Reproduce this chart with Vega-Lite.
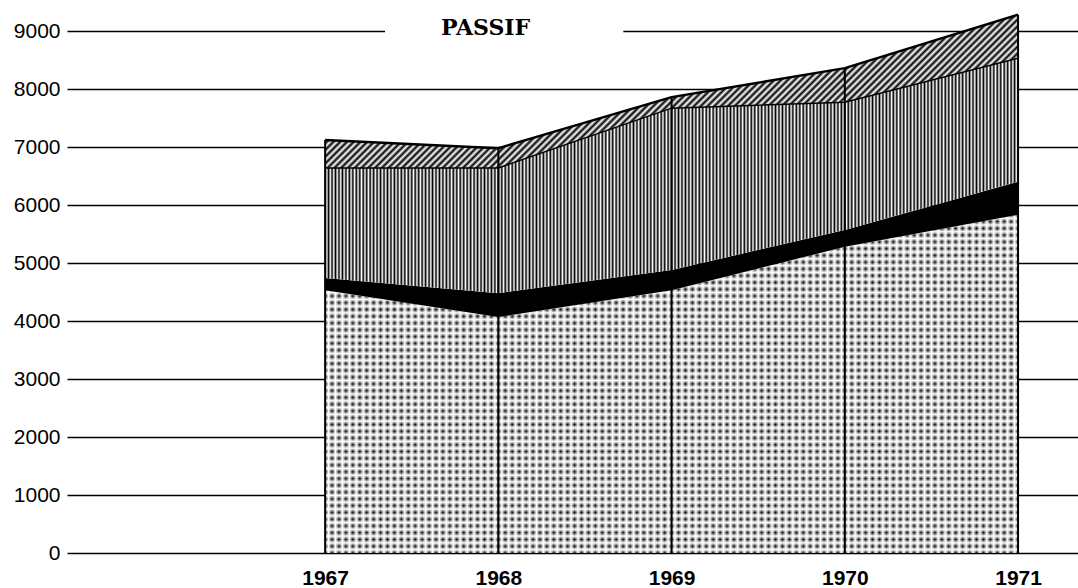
{
"$schema":"https://vega.github.io/schema/vega-lite/v6.json",
"width":1011,"height":551,
"autosize":{"type":"none"},
"padding":{"left":67,"top":2,"right":0,"bottom":35},
"background":"white",
"title":{"text":"PASSIF","anchor":"start","frame":"group","dx":374,"offset":-55,"baseline":"alphabetic","font":"DejaVu Serif","fontSize":22,"fontWeight":"bold","color":"#000"},
"config":{"view":{"stroke":null},
"axis":{"labelFont":"Liberation Sans","labelColor":"#000"},
"axisY":{"grid":true,"gridColor":"#000","gridWidth":1.6,"gridOpacity":1,"ticks":false,"domain":false,"labelFontSize":21,"labelPadding":7},
"axisX":{"grid":false,"ticks":false,"domain":false,"labelFontSize":21,"labelFontWeight":"bold","labelPadding":14,"labelFlush":false,"labelOverlap":false}},
"data":{"values":[
{"annee":1967,"s1":4530,"s2":4740,"s3":6640,"s4":7120},
{"annee":1968,"s1":4070,"s2":4480,"s3":6640,"s4":6980},
{"annee":1969,"s1":4530,"s2":4880,"s3":7670,"s4":7860},
{"annee":1970,"s1":5280,"s2":5570,"s3":7770,"s4":8360},
{"annee":1971,"s1":5830,"s2":6400,"s3":8530,"s4":9280}
]},
"encoding":{"x":{"field":"annee","type":"quantitative","scale":{"domain":[1965.51,1971.346],"nice":false,"zero":false},"axis":{"values":[1967,1968,1969,1970,1971],"format":"d","title":null}}},
"layer":[
{"mark":{"type":"rect","fill":"#fff","stroke":null},
"encoding":{"x":{"datum":1967.346,"type":"quantitative","scale":{"domain":[1965.51,1971.346],"nice":false,"zero":false},"axis":{"values":[1967,1968,1969,1970,1971],"format":"d","title":null}},"x2":{"datum":1968.72},"y":{"datum":8850,"type":"quantitative","scale":{"domain":[0,9500],"nice":false},"axis":{"values":[0,1000,2000,3000,4000,5000,6000,7000,8000,9000],"format":"d","title":null}},"y2":{"datum":9150}}},
{"mark":{"type":"area","interpolate":"linear","fill":{"gradient":"linear","x1":0,"y1":0,"x2":0,"y2":1,"stops":[
{"offset":0,"color":"#000"},{"offset":0.01,"color":"#fff"},{"offset":0.02,"color":"#000"},{"offset":0.03,"color":"#fff"},{"offset":0.04,"color":"#000"},{"offset":0.05,"color":"#fff"},{"offset":0.06,"color":"#000"},{"offset":0.07,"color":"#fff"},{"offset":0.08,"color":"#000"},{"offset":0.09,"color":"#fff"},
{"offset":0.1,"color":"#000"},{"offset":0.11,"color":"#fff"},{"offset":0.12,"color":"#000"},{"offset":0.13,"color":"#fff"},{"offset":0.14,"color":"#000"},{"offset":0.15,"color":"#fff"},{"offset":0.16,"color":"#000"},{"offset":0.17,"color":"#fff"},{"offset":0.18,"color":"#000"},{"offset":0.19,"color":"#fff"},
{"offset":0.2,"color":"#000"},{"offset":0.21,"color":"#fff"},{"offset":0.22,"color":"#000"},{"offset":0.23,"color":"#fff"},{"offset":0.24,"color":"#000"},{"offset":0.25,"color":"#fff"},{"offset":0.26,"color":"#000"},{"offset":0.27,"color":"#fff"},{"offset":0.28,"color":"#000"},{"offset":0.29,"color":"#fff"},
{"offset":0.3,"color":"#000"},{"offset":0.31,"color":"#fff"},{"offset":0.32,"color":"#000"},{"offset":0.33,"color":"#fff"},{"offset":0.34,"color":"#000"},{"offset":0.35,"color":"#fff"},{"offset":0.36,"color":"#000"},{"offset":0.37,"color":"#fff"},{"offset":0.38,"color":"#000"},{"offset":0.39,"color":"#fff"},
{"offset":0.4,"color":"#000"},{"offset":0.41,"color":"#fff"},{"offset":0.42,"color":"#000"},{"offset":0.43,"color":"#fff"},{"offset":0.44,"color":"#000"},{"offset":0.45,"color":"#fff"},{"offset":0.46,"color":"#000"},{"offset":0.47,"color":"#fff"},{"offset":0.48,"color":"#000"},{"offset":0.49,"color":"#fff"},
{"offset":0.5,"color":"#000"},{"offset":0.51,"color":"#fff"},{"offset":0.52,"color":"#000"},{"offset":0.53,"color":"#fff"},{"offset":0.54,"color":"#000"},{"offset":0.55,"color":"#fff"},{"offset":0.56,"color":"#000"},{"offset":0.57,"color":"#fff"},{"offset":0.58,"color":"#000"},{"offset":0.59,"color":"#fff"},
{"offset":0.6,"color":"#000"},{"offset":0.61,"color":"#fff"},{"offset":0.62,"color":"#000"},{"offset":0.63,"color":"#fff"},{"offset":0.64,"color":"#000"},{"offset":0.65,"color":"#fff"},{"offset":0.66,"color":"#000"},{"offset":0.67,"color":"#fff"},{"offset":0.68,"color":"#000"},{"offset":0.69,"color":"#fff"},
{"offset":0.7,"color":"#000"},{"offset":0.71,"color":"#fff"},{"offset":0.72,"color":"#000"},{"offset":0.73,"color":"#fff"},{"offset":0.74,"color":"#000"},{"offset":0.75,"color":"#fff"},{"offset":0.76,"color":"#000"},{"offset":0.77,"color":"#fff"},{"offset":0.78,"color":"#000"},{"offset":0.79,"color":"#fff"},
{"offset":0.8,"color":"#000"},{"offset":0.81,"color":"#fff"},{"offset":0.82,"color":"#000"},{"offset":0.83,"color":"#fff"},{"offset":0.84,"color":"#000"},{"offset":0.85,"color":"#fff"},{"offset":0.86,"color":"#000"},{"offset":0.87,"color":"#fff"},{"offset":0.88,"color":"#000"},{"offset":0.89,"color":"#fff"},
{"offset":0.9,"color":"#000"},{"offset":0.91,"color":"#fff"},{"offset":0.92,"color":"#000"},{"offset":0.93,"color":"#fff"},{"offset":0.94,"color":"#000"},{"offset":0.95,"color":"#fff"},{"offset":0.96,"color":"#000"},{"offset":0.97,"color":"#fff"},{"offset":0.98,"color":"#000"},{"offset":0.99,"color":"#fff"},
{"offset":1,"color":"#000"}]}},
"encoding":{"y":{"field":"s1","type":"quantitative","scale":{"domain":[0,9500],"nice":false},"axis":{"values":[0,1000,2000,3000,4000,5000,6000,7000,8000,9000],"format":"d","title":null}}}},
{"mark":{"type":"area","interpolate":"linear","fill":{"gradient":"linear","x1":0,"y1":0,"x2":1,"y2":0,"stops":[
{"offset":0,"color":"rgba(255,255,255,0)"},{"offset":0.005,"color":"#fff"},{"offset":0.01,"color":"rgba(255,255,255,0)"},{"offset":0.015,"color":"#fff"},{"offset":0.02,"color":"rgba(255,255,255,0)"},{"offset":0.025,"color":"#fff"},{"offset":0.03,"color":"rgba(255,255,255,0)"},{"offset":0.035,"color":"#fff"},{"offset":0.04,"color":"rgba(255,255,255,0)"},{"offset":0.045,"color":"#fff"},
{"offset":0.05,"color":"rgba(255,255,255,0)"},{"offset":0.055,"color":"#fff"},{"offset":0.06,"color":"rgba(255,255,255,0)"},{"offset":0.065,"color":"#fff"},{"offset":0.07,"color":"rgba(255,255,255,0)"},{"offset":0.075,"color":"#fff"},{"offset":0.08,"color":"rgba(255,255,255,0)"},{"offset":0.085,"color":"#fff"},{"offset":0.09,"color":"rgba(255,255,255,0)"},{"offset":0.095,"color":"#fff"},
{"offset":0.1,"color":"rgba(255,255,255,0)"},{"offset":0.105,"color":"#fff"},{"offset":0.11,"color":"rgba(255,255,255,0)"},{"offset":0.115,"color":"#fff"},{"offset":0.12,"color":"rgba(255,255,255,0)"},{"offset":0.125,"color":"#fff"},{"offset":0.13,"color":"rgba(255,255,255,0)"},{"offset":0.135,"color":"#fff"},{"offset":0.14,"color":"rgba(255,255,255,0)"},{"offset":0.145,"color":"#fff"},
{"offset":0.15,"color":"rgba(255,255,255,0)"},{"offset":0.155,"color":"#fff"},{"offset":0.16,"color":"rgba(255,255,255,0)"},{"offset":0.165,"color":"#fff"},{"offset":0.17,"color":"rgba(255,255,255,0)"},{"offset":0.175,"color":"#fff"},{"offset":0.18,"color":"rgba(255,255,255,0)"},{"offset":0.185,"color":"#fff"},{"offset":0.19,"color":"rgba(255,255,255,0)"},{"offset":0.195,"color":"#fff"},
{"offset":0.2,"color":"rgba(255,255,255,0)"},{"offset":0.205,"color":"#fff"},{"offset":0.21,"color":"rgba(255,255,255,0)"},{"offset":0.215,"color":"#fff"},{"offset":0.22,"color":"rgba(255,255,255,0)"},{"offset":0.225,"color":"#fff"},{"offset":0.23,"color":"rgba(255,255,255,0)"},{"offset":0.235,"color":"#fff"},{"offset":0.24,"color":"rgba(255,255,255,0)"},{"offset":0.245,"color":"#fff"},
{"offset":0.25,"color":"rgba(255,255,255,0)"},{"offset":0.255,"color":"#fff"},{"offset":0.26,"color":"rgba(255,255,255,0)"},{"offset":0.265,"color":"#fff"},{"offset":0.27,"color":"rgba(255,255,255,0)"},{"offset":0.275,"color":"#fff"},{"offset":0.28,"color":"rgba(255,255,255,0)"},{"offset":0.285,"color":"#fff"},{"offset":0.29,"color":"rgba(255,255,255,0)"},{"offset":0.295,"color":"#fff"},
{"offset":0.3,"color":"rgba(255,255,255,0)"},{"offset":0.305,"color":"#fff"},{"offset":0.31,"color":"rgba(255,255,255,0)"},{"offset":0.315,"color":"#fff"},{"offset":0.32,"color":"rgba(255,255,255,0)"},{"offset":0.325,"color":"#fff"},{"offset":0.33,"color":"rgba(255,255,255,0)"},{"offset":0.335,"color":"#fff"},{"offset":0.34,"color":"rgba(255,255,255,0)"},{"offset":0.345,"color":"#fff"},
{"offset":0.35,"color":"rgba(255,255,255,0)"},{"offset":0.355,"color":"#fff"},{"offset":0.36,"color":"rgba(255,255,255,0)"},{"offset":0.365,"color":"#fff"},{"offset":0.37,"color":"rgba(255,255,255,0)"},{"offset":0.375,"color":"#fff"},{"offset":0.38,"color":"rgba(255,255,255,0)"},{"offset":0.385,"color":"#fff"},{"offset":0.39,"color":"rgba(255,255,255,0)"},{"offset":0.395,"color":"#fff"},
{"offset":0.4,"color":"rgba(255,255,255,0)"},{"offset":0.405,"color":"#fff"},{"offset":0.41,"color":"rgba(255,255,255,0)"},{"offset":0.415,"color":"#fff"},{"offset":0.42,"color":"rgba(255,255,255,0)"},{"offset":0.425,"color":"#fff"},{"offset":0.43,"color":"rgba(255,255,255,0)"},{"offset":0.435,"color":"#fff"},{"offset":0.44,"color":"rgba(255,255,255,0)"},{"offset":0.445,"color":"#fff"},
{"offset":0.45,"color":"rgba(255,255,255,0)"},{"offset":0.455,"color":"#fff"},{"offset":0.46,"color":"rgba(255,255,255,0)"},{"offset":0.465,"color":"#fff"},{"offset":0.47,"color":"rgba(255,255,255,0)"},{"offset":0.475,"color":"#fff"},{"offset":0.48,"color":"rgba(255,255,255,0)"},{"offset":0.485,"color":"#fff"},{"offset":0.49,"color":"rgba(255,255,255,0)"},{"offset":0.495,"color":"#fff"},
{"offset":0.5,"color":"rgba(255,255,255,0)"},{"offset":0.505,"color":"#fff"},{"offset":0.51,"color":"rgba(255,255,255,0)"},{"offset":0.515,"color":"#fff"},{"offset":0.52,"color":"rgba(255,255,255,0)"},{"offset":0.525,"color":"#fff"},{"offset":0.53,"color":"rgba(255,255,255,0)"},{"offset":0.535,"color":"#fff"},{"offset":0.54,"color":"rgba(255,255,255,0)"},{"offset":0.545,"color":"#fff"},
{"offset":0.55,"color":"rgba(255,255,255,0)"},{"offset":0.555,"color":"#fff"},{"offset":0.56,"color":"rgba(255,255,255,0)"},{"offset":0.565,"color":"#fff"},{"offset":0.57,"color":"rgba(255,255,255,0)"},{"offset":0.575,"color":"#fff"},{"offset":0.58,"color":"rgba(255,255,255,0)"},{"offset":0.585,"color":"#fff"},{"offset":0.59,"color":"rgba(255,255,255,0)"},{"offset":0.595,"color":"#fff"},
{"offset":0.6,"color":"rgba(255,255,255,0)"},{"offset":0.605,"color":"#fff"},{"offset":0.61,"color":"rgba(255,255,255,0)"},{"offset":0.615,"color":"#fff"},{"offset":0.62,"color":"rgba(255,255,255,0)"},{"offset":0.625,"color":"#fff"},{"offset":0.63,"color":"rgba(255,255,255,0)"},{"offset":0.635,"color":"#fff"},{"offset":0.64,"color":"rgba(255,255,255,0)"},{"offset":0.645,"color":"#fff"},
{"offset":0.65,"color":"rgba(255,255,255,0)"},{"offset":0.655,"color":"#fff"},{"offset":0.66,"color":"rgba(255,255,255,0)"},{"offset":0.665,"color":"#fff"},{"offset":0.67,"color":"rgba(255,255,255,0)"},{"offset":0.675,"color":"#fff"},{"offset":0.68,"color":"rgba(255,255,255,0)"},{"offset":0.685,"color":"#fff"},{"offset":0.69,"color":"rgba(255,255,255,0)"},{"offset":0.695,"color":"#fff"},
{"offset":0.7,"color":"rgba(255,255,255,0)"},{"offset":0.705,"color":"#fff"},{"offset":0.71,"color":"rgba(255,255,255,0)"},{"offset":0.715,"color":"#fff"},{"offset":0.72,"color":"rgba(255,255,255,0)"},{"offset":0.725,"color":"#fff"},{"offset":0.73,"color":"rgba(255,255,255,0)"},{"offset":0.735,"color":"#fff"},{"offset":0.74,"color":"rgba(255,255,255,0)"},{"offset":0.745,"color":"#fff"},
{"offset":0.75,"color":"rgba(255,255,255,0)"},{"offset":0.755,"color":"#fff"},{"offset":0.76,"color":"rgba(255,255,255,0)"},{"offset":0.765,"color":"#fff"},{"offset":0.77,"color":"rgba(255,255,255,0)"},{"offset":0.775,"color":"#fff"},{"offset":0.78,"color":"rgba(255,255,255,0)"},{"offset":0.785,"color":"#fff"},{"offset":0.79,"color":"rgba(255,255,255,0)"},{"offset":0.795,"color":"#fff"},
{"offset":0.8,"color":"rgba(255,255,255,0)"},{"offset":0.805,"color":"#fff"},{"offset":0.81,"color":"rgba(255,255,255,0)"},{"offset":0.815,"color":"#fff"},{"offset":0.82,"color":"rgba(255,255,255,0)"},{"offset":0.825,"color":"#fff"},{"offset":0.83,"color":"rgba(255,255,255,0)"},{"offset":0.835,"color":"#fff"},{"offset":0.84,"color":"rgba(255,255,255,0)"},{"offset":0.845,"color":"#fff"},
{"offset":0.85,"color":"rgba(255,255,255,0)"},{"offset":0.855,"color":"#fff"},{"offset":0.86,"color":"rgba(255,255,255,0)"},{"offset":0.865,"color":"#fff"},{"offset":0.87,"color":"rgba(255,255,255,0)"},{"offset":0.875,"color":"#fff"},{"offset":0.88,"color":"rgba(255,255,255,0)"},{"offset":0.885,"color":"#fff"},{"offset":0.89,"color":"rgba(255,255,255,0)"},{"offset":0.895,"color":"#fff"},
{"offset":0.9,"color":"rgba(255,255,255,0)"},{"offset":0.905,"color":"#fff"},{"offset":0.91,"color":"rgba(255,255,255,0)"},{"offset":0.915,"color":"#fff"},{"offset":0.92,"color":"rgba(255,255,255,0)"},{"offset":0.925,"color":"#fff"},{"offset":0.93,"color":"rgba(255,255,255,0)"},{"offset":0.935,"color":"#fff"},{"offset":0.94,"color":"rgba(255,255,255,0)"},{"offset":0.945,"color":"#fff"},
{"offset":0.95,"color":"rgba(255,255,255,0)"},{"offset":0.955,"color":"#fff"},{"offset":0.96,"color":"rgba(255,255,255,0)"},{"offset":0.965,"color":"#fff"},{"offset":0.97,"color":"rgba(255,255,255,0)"},{"offset":0.975,"color":"#fff"},{"offset":0.98,"color":"rgba(255,255,255,0)"},{"offset":0.985,"color":"#fff"},{"offset":0.99,"color":"rgba(255,255,255,0)"},{"offset":0.995,"color":"#fff"},
{"offset":1,"color":"rgba(255,255,255,0)"}]}},
"encoding":{"y":{"field":"s1","type":"quantitative","scale":{"domain":[0,9500],"nice":false},"axis":{"values":[0,1000,2000,3000,4000,5000,6000,7000,8000,9000],"format":"d","title":null}}}},
{"mark":{"type":"area","interpolate":"linear","fill":"#000"},
"encoding":{"y":{"field":"s2","type":"quantitative","scale":{"domain":[0,9500],"nice":false},"axis":{"values":[0,1000,2000,3000,4000,5000,6000,7000,8000,9000],"format":"d","title":null}},"y2":{"field":"s1"}}},
{"mark":{"type":"area","interpolate":"linear","fill":{"gradient":"linear","x1":0,"y1":0,"x2":1,"y2":0,"stops":[
{"offset":0,"color":"#000"},{"offset":0.0025,"color":"#fff"},{"offset":0.005,"color":"#000"},{"offset":0.0075,"color":"#fff"},
{"offset":0.01,"color":"#000"},{"offset":0.0125,"color":"#fff"},{"offset":0.015,"color":"#000"},{"offset":0.0175,"color":"#fff"},
{"offset":0.02,"color":"#000"},{"offset":0.0225,"color":"#fff"},{"offset":0.025,"color":"#000"},{"offset":0.0275,"color":"#fff"},
{"offset":0.03,"color":"#000"},{"offset":0.0325,"color":"#fff"},{"offset":0.035,"color":"#000"},{"offset":0.0375,"color":"#fff"},
{"offset":0.04,"color":"#000"},{"offset":0.0425,"color":"#fff"},{"offset":0.045,"color":"#000"},{"offset":0.0475,"color":"#fff"},
{"offset":0.05,"color":"#000"},{"offset":0.0525,"color":"#fff"},{"offset":0.055,"color":"#000"},{"offset":0.0575,"color":"#fff"},
{"offset":0.06,"color":"#000"},{"offset":0.0625,"color":"#fff"},{"offset":0.065,"color":"#000"},{"offset":0.0675,"color":"#fff"},
{"offset":0.07,"color":"#000"},{"offset":0.0725,"color":"#fff"},{"offset":0.075,"color":"#000"},{"offset":0.0775,"color":"#fff"},
{"offset":0.08,"color":"#000"},{"offset":0.0825,"color":"#fff"},{"offset":0.085,"color":"#000"},{"offset":0.0875,"color":"#fff"},
{"offset":0.09,"color":"#000"},{"offset":0.0925,"color":"#fff"},{"offset":0.095,"color":"#000"},{"offset":0.0975,"color":"#fff"},
{"offset":0.1,"color":"#000"},{"offset":0.1025,"color":"#fff"},{"offset":0.105,"color":"#000"},{"offset":0.1075,"color":"#fff"},
{"offset":0.11,"color":"#000"},{"offset":0.1125,"color":"#fff"},{"offset":0.115,"color":"#000"},{"offset":0.1175,"color":"#fff"},
{"offset":0.12,"color":"#000"},{"offset":0.1225,"color":"#fff"},{"offset":0.125,"color":"#000"},{"offset":0.1275,"color":"#fff"},
{"offset":0.13,"color":"#000"},{"offset":0.1325,"color":"#fff"},{"offset":0.135,"color":"#000"},{"offset":0.1375,"color":"#fff"},
{"offset":0.14,"color":"#000"},{"offset":0.1425,"color":"#fff"},{"offset":0.145,"color":"#000"},{"offset":0.1475,"color":"#fff"},
{"offset":0.15,"color":"#000"},{"offset":0.1525,"color":"#fff"},{"offset":0.155,"color":"#000"},{"offset":0.1575,"color":"#fff"},
{"offset":0.16,"color":"#000"},{"offset":0.1625,"color":"#fff"},{"offset":0.165,"color":"#000"},{"offset":0.1675,"color":"#fff"},
{"offset":0.17,"color":"#000"},{"offset":0.1725,"color":"#fff"},{"offset":0.175,"color":"#000"},{"offset":0.1775,"color":"#fff"},
{"offset":0.18,"color":"#000"},{"offset":0.1825,"color":"#fff"},{"offset":0.185,"color":"#000"},{"offset":0.1875,"color":"#fff"},
{"offset":0.19,"color":"#000"},{"offset":0.1925,"color":"#fff"},{"offset":0.195,"color":"#000"},{"offset":0.1975,"color":"#fff"},
{"offset":0.2,"color":"#000"},{"offset":0.2025,"color":"#fff"},{"offset":0.205,"color":"#000"},{"offset":0.2075,"color":"#fff"},
{"offset":0.21,"color":"#000"},{"offset":0.2125,"color":"#fff"},{"offset":0.215,"color":"#000"},{"offset":0.2175,"color":"#fff"},
{"offset":0.22,"color":"#000"},{"offset":0.2225,"color":"#fff"},{"offset":0.225,"color":"#000"},{"offset":0.2275,"color":"#fff"},
{"offset":0.23,"color":"#000"},{"offset":0.2325,"color":"#fff"},{"offset":0.235,"color":"#000"},{"offset":0.2375,"color":"#fff"},
{"offset":0.24,"color":"#000"},{"offset":0.2425,"color":"#fff"},{"offset":0.245,"color":"#000"},{"offset":0.2475,"color":"#fff"},
{"offset":0.25,"color":"#000"},{"offset":0.2525,"color":"#fff"},{"offset":0.255,"color":"#000"},{"offset":0.2575,"color":"#fff"},
{"offset":0.26,"color":"#000"},{"offset":0.2625,"color":"#fff"},{"offset":0.265,"color":"#000"},{"offset":0.2675,"color":"#fff"},
{"offset":0.27,"color":"#000"},{"offset":0.2725,"color":"#fff"},{"offset":0.275,"color":"#000"},{"offset":0.2775,"color":"#fff"},
{"offset":0.28,"color":"#000"},{"offset":0.2825,"color":"#fff"},{"offset":0.285,"color":"#000"},{"offset":0.2875,"color":"#fff"},
{"offset":0.29,"color":"#000"},{"offset":0.2925,"color":"#fff"},{"offset":0.295,"color":"#000"},{"offset":0.2975,"color":"#fff"},
{"offset":0.3,"color":"#000"},{"offset":0.3025,"color":"#fff"},{"offset":0.305,"color":"#000"},{"offset":0.3075,"color":"#fff"},
{"offset":0.31,"color":"#000"},{"offset":0.3125,"color":"#fff"},{"offset":0.315,"color":"#000"},{"offset":0.3175,"color":"#fff"},
{"offset":0.32,"color":"#000"},{"offset":0.3225,"color":"#fff"},{"offset":0.325,"color":"#000"},{"offset":0.3275,"color":"#fff"},
{"offset":0.33,"color":"#000"},{"offset":0.3325,"color":"#fff"},{"offset":0.335,"color":"#000"},{"offset":0.3375,"color":"#fff"},
{"offset":0.34,"color":"#000"},{"offset":0.3425,"color":"#fff"},{"offset":0.345,"color":"#000"},{"offset":0.3475,"color":"#fff"},
{"offset":0.35,"color":"#000"},{"offset":0.3525,"color":"#fff"},{"offset":0.355,"color":"#000"},{"offset":0.3575,"color":"#fff"},
{"offset":0.36,"color":"#000"},{"offset":0.3625,"color":"#fff"},{"offset":0.365,"color":"#000"},{"offset":0.3675,"color":"#fff"},
{"offset":0.37,"color":"#000"},{"offset":0.3725,"color":"#fff"},{"offset":0.375,"color":"#000"},{"offset":0.3775,"color":"#fff"},
{"offset":0.38,"color":"#000"},{"offset":0.3825,"color":"#fff"},{"offset":0.385,"color":"#000"},{"offset":0.3875,"color":"#fff"},
{"offset":0.39,"color":"#000"},{"offset":0.3925,"color":"#fff"},{"offset":0.395,"color":"#000"},{"offset":0.3975,"color":"#fff"},
{"offset":0.4,"color":"#000"},{"offset":0.4025,"color":"#fff"},{"offset":0.405,"color":"#000"},{"offset":0.4075,"color":"#fff"},
{"offset":0.41,"color":"#000"},{"offset":0.4125,"color":"#fff"},{"offset":0.415,"color":"#000"},{"offset":0.4175,"color":"#fff"},
{"offset":0.42,"color":"#000"},{"offset":0.4225,"color":"#fff"},{"offset":0.425,"color":"#000"},{"offset":0.4275,"color":"#fff"},
{"offset":0.43,"color":"#000"},{"offset":0.4325,"color":"#fff"},{"offset":0.435,"color":"#000"},{"offset":0.4375,"color":"#fff"},
{"offset":0.44,"color":"#000"},{"offset":0.4425,"color":"#fff"},{"offset":0.445,"color":"#000"},{"offset":0.4475,"color":"#fff"},
{"offset":0.45,"color":"#000"},{"offset":0.4525,"color":"#fff"},{"offset":0.455,"color":"#000"},{"offset":0.4575,"color":"#fff"},
{"offset":0.46,"color":"#000"},{"offset":0.4625,"color":"#fff"},{"offset":0.465,"color":"#000"},{"offset":0.4675,"color":"#fff"},
{"offset":0.47,"color":"#000"},{"offset":0.4725,"color":"#fff"},{"offset":0.475,"color":"#000"},{"offset":0.4775,"color":"#fff"},
{"offset":0.48,"color":"#000"},{"offset":0.4825,"color":"#fff"},{"offset":0.485,"color":"#000"},{"offset":0.4875,"color":"#fff"},
{"offset":0.49,"color":"#000"},{"offset":0.4925,"color":"#fff"},{"offset":0.495,"color":"#000"},{"offset":0.4975,"color":"#fff"},
{"offset":0.5,"color":"#000"},{"offset":0.5025,"color":"#fff"},{"offset":0.505,"color":"#000"},{"offset":0.5075,"color":"#fff"},
{"offset":0.51,"color":"#000"},{"offset":0.5125,"color":"#fff"},{"offset":0.515,"color":"#000"},{"offset":0.5175,"color":"#fff"},
{"offset":0.52,"color":"#000"},{"offset":0.5225,"color":"#fff"},{"offset":0.525,"color":"#000"},{"offset":0.5275,"color":"#fff"},
{"offset":0.53,"color":"#000"},{"offset":0.5325,"color":"#fff"},{"offset":0.535,"color":"#000"},{"offset":0.5375,"color":"#fff"},
{"offset":0.54,"color":"#000"},{"offset":0.5425,"color":"#fff"},{"offset":0.545,"color":"#000"},{"offset":0.5475,"color":"#fff"},
{"offset":0.55,"color":"#000"},{"offset":0.5525,"color":"#fff"},{"offset":0.555,"color":"#000"},{"offset":0.5575,"color":"#fff"},
{"offset":0.56,"color":"#000"},{"offset":0.5625,"color":"#fff"},{"offset":0.565,"color":"#000"},{"offset":0.5675,"color":"#fff"},
{"offset":0.57,"color":"#000"},{"offset":0.5725,"color":"#fff"},{"offset":0.575,"color":"#000"},{"offset":0.5775,"color":"#fff"},
{"offset":0.58,"color":"#000"},{"offset":0.5825,"color":"#fff"},{"offset":0.585,"color":"#000"},{"offset":0.5875,"color":"#fff"},
{"offset":0.59,"color":"#000"},{"offset":0.5925,"color":"#fff"},{"offset":0.595,"color":"#000"},{"offset":0.5975,"color":"#fff"},
{"offset":0.6,"color":"#000"},{"offset":0.6025,"color":"#fff"},{"offset":0.605,"color":"#000"},{"offset":0.6075,"color":"#fff"},
{"offset":0.61,"color":"#000"},{"offset":0.6125,"color":"#fff"},{"offset":0.615,"color":"#000"},{"offset":0.6175,"color":"#fff"},
{"offset":0.62,"color":"#000"},{"offset":0.6225,"color":"#fff"},{"offset":0.625,"color":"#000"},{"offset":0.6275,"color":"#fff"},
{"offset":0.63,"color":"#000"},{"offset":0.6325,"color":"#fff"},{"offset":0.635,"color":"#000"},{"offset":0.6375,"color":"#fff"},
{"offset":0.64,"color":"#000"},{"offset":0.6425,"color":"#fff"},{"offset":0.645,"color":"#000"},{"offset":0.6475,"color":"#fff"},
{"offset":0.65,"color":"#000"},{"offset":0.6525,"color":"#fff"},{"offset":0.655,"color":"#000"},{"offset":0.6575,"color":"#fff"},
{"offset":0.66,"color":"#000"},{"offset":0.6625,"color":"#fff"},{"offset":0.665,"color":"#000"},{"offset":0.6675,"color":"#fff"},
{"offset":0.67,"color":"#000"},{"offset":0.6725,"color":"#fff"},{"offset":0.675,"color":"#000"},{"offset":0.6775,"color":"#fff"},
{"offset":0.68,"color":"#000"},{"offset":0.6825,"color":"#fff"},{"offset":0.685,"color":"#000"},{"offset":0.6875,"color":"#fff"},
{"offset":0.69,"color":"#000"},{"offset":0.6925,"color":"#fff"},{"offset":0.695,"color":"#000"},{"offset":0.6975,"color":"#fff"},
{"offset":0.7,"color":"#000"},{"offset":0.7025,"color":"#fff"},{"offset":0.705,"color":"#000"},{"offset":0.7075,"color":"#fff"},
{"offset":0.71,"color":"#000"},{"offset":0.7125,"color":"#fff"},{"offset":0.715,"color":"#000"},{"offset":0.7175,"color":"#fff"},
{"offset":0.72,"color":"#000"},{"offset":0.7225,"color":"#fff"},{"offset":0.725,"color":"#000"},{"offset":0.7275,"color":"#fff"},
{"offset":0.73,"color":"#000"},{"offset":0.7325,"color":"#fff"},{"offset":0.735,"color":"#000"},{"offset":0.7375,"color":"#fff"},
{"offset":0.74,"color":"#000"},{"offset":0.7425,"color":"#fff"},{"offset":0.745,"color":"#000"},{"offset":0.7475,"color":"#fff"},
{"offset":0.75,"color":"#000"},{"offset":0.7525,"color":"#fff"},{"offset":0.755,"color":"#000"},{"offset":0.7575,"color":"#fff"},
{"offset":0.76,"color":"#000"},{"offset":0.7625,"color":"#fff"},{"offset":0.765,"color":"#000"},{"offset":0.7675,"color":"#fff"},
{"offset":0.77,"color":"#000"},{"offset":0.7725,"color":"#fff"},{"offset":0.775,"color":"#000"},{"offset":0.7775,"color":"#fff"},
{"offset":0.78,"color":"#000"},{"offset":0.7825,"color":"#fff"},{"offset":0.785,"color":"#000"},{"offset":0.7875,"color":"#fff"},
{"offset":0.79,"color":"#000"},{"offset":0.7925,"color":"#fff"},{"offset":0.795,"color":"#000"},{"offset":0.7975,"color":"#fff"},
{"offset":0.8,"color":"#000"},{"offset":0.8025,"color":"#fff"},{"offset":0.805,"color":"#000"},{"offset":0.8075,"color":"#fff"},
{"offset":0.81,"color":"#000"},{"offset":0.8125,"color":"#fff"},{"offset":0.815,"color":"#000"},{"offset":0.8175,"color":"#fff"},
{"offset":0.82,"color":"#000"},{"offset":0.8225,"color":"#fff"},{"offset":0.825,"color":"#000"},{"offset":0.8275,"color":"#fff"},
{"offset":0.83,"color":"#000"},{"offset":0.8325,"color":"#fff"},{"offset":0.835,"color":"#000"},{"offset":0.8375,"color":"#fff"},
{"offset":0.84,"color":"#000"},{"offset":0.8425,"color":"#fff"},{"offset":0.845,"color":"#000"},{"offset":0.8475,"color":"#fff"},
{"offset":0.85,"color":"#000"},{"offset":0.8525,"color":"#fff"},{"offset":0.855,"color":"#000"},{"offset":0.8575,"color":"#fff"},
{"offset":0.86,"color":"#000"},{"offset":0.8625,"color":"#fff"},{"offset":0.865,"color":"#000"},{"offset":0.8675,"color":"#fff"},
{"offset":0.87,"color":"#000"},{"offset":0.8725,"color":"#fff"},{"offset":0.875,"color":"#000"},{"offset":0.8775,"color":"#fff"},
{"offset":0.88,"color":"#000"},{"offset":0.8825,"color":"#fff"},{"offset":0.885,"color":"#000"},{"offset":0.8875,"color":"#fff"},
{"offset":0.89,"color":"#000"},{"offset":0.8925,"color":"#fff"},{"offset":0.895,"color":"#000"},{"offset":0.8975,"color":"#fff"},
{"offset":0.9,"color":"#000"},{"offset":0.9025,"color":"#fff"},{"offset":0.905,"color":"#000"},{"offset":0.9075,"color":"#fff"},
{"offset":0.91,"color":"#000"},{"offset":0.9125,"color":"#fff"},{"offset":0.915,"color":"#000"},{"offset":0.9175,"color":"#fff"},
{"offset":0.92,"color":"#000"},{"offset":0.9225,"color":"#fff"},{"offset":0.925,"color":"#000"},{"offset":0.9275,"color":"#fff"},
{"offset":0.93,"color":"#000"},{"offset":0.9325,"color":"#fff"},{"offset":0.935,"color":"#000"},{"offset":0.9375,"color":"#fff"},
{"offset":0.94,"color":"#000"},{"offset":0.9425,"color":"#fff"},{"offset":0.945,"color":"#000"},{"offset":0.9475,"color":"#fff"},
{"offset":0.95,"color":"#000"},{"offset":0.9525,"color":"#fff"},{"offset":0.955,"color":"#000"},{"offset":0.9575,"color":"#fff"},
{"offset":0.96,"color":"#000"},{"offset":0.9625,"color":"#fff"},{"offset":0.965,"color":"#000"},{"offset":0.9675,"color":"#fff"},
{"offset":0.97,"color":"#000"},{"offset":0.9725,"color":"#fff"},{"offset":0.975,"color":"#000"},{"offset":0.9775,"color":"#fff"},
{"offset":0.98,"color":"#000"},{"offset":0.9825,"color":"#fff"},{"offset":0.985,"color":"#000"},{"offset":0.9875,"color":"#fff"},
{"offset":0.99,"color":"#000"},{"offset":0.9925,"color":"#fff"},{"offset":0.995,"color":"#000"},{"offset":0.9975,"color":"#fff"},
{"offset":1,"color":"#000"}]}},
"encoding":{"y":{"field":"s3","type":"quantitative","scale":{"domain":[0,9500],"nice":false},"axis":{"values":[0,1000,2000,3000,4000,5000,6000,7000,8000,9000],"format":"d","title":null}},"y2":{"field":"s2"}}},
{"mark":{"type":"area","interpolate":"linear","fill":{"gradient":"linear","x1":0,"y1":0,"x2":1.1641,"y2":0.2572,"stops":[
{"offset":0,"color":"#000"},{"offset":0.004,"color":"#fff"},{"offset":0.008,"color":"#000"},{"offset":0.012,"color":"#fff"},{"offset":0.016,"color":"#000"},{"offset":0.02,"color":"#fff"},{"offset":0.024,"color":"#000"},{"offset":0.028,"color":"#fff"},{"offset":0.032,"color":"#000"},{"offset":0.036,"color":"#fff"},
{"offset":0.04,"color":"#000"},{"offset":0.044,"color":"#fff"},{"offset":0.048,"color":"#000"},{"offset":0.052,"color":"#fff"},{"offset":0.056,"color":"#000"},{"offset":0.06,"color":"#fff"},{"offset":0.064,"color":"#000"},{"offset":0.068,"color":"#fff"},{"offset":0.072,"color":"#000"},{"offset":0.076,"color":"#fff"},
{"offset":0.08,"color":"#000"},{"offset":0.084,"color":"#fff"},{"offset":0.088,"color":"#000"},{"offset":0.092,"color":"#fff"},{"offset":0.096,"color":"#000"},{"offset":0.1,"color":"#fff"},{"offset":0.104,"color":"#000"},{"offset":0.108,"color":"#fff"},{"offset":0.112,"color":"#000"},{"offset":0.116,"color":"#fff"},
{"offset":0.12,"color":"#000"},{"offset":0.124,"color":"#fff"},{"offset":0.128,"color":"#000"},{"offset":0.132,"color":"#fff"},{"offset":0.136,"color":"#000"},{"offset":0.14,"color":"#fff"},{"offset":0.144,"color":"#000"},{"offset":0.148,"color":"#fff"},{"offset":0.152,"color":"#000"},{"offset":0.156,"color":"#fff"},
{"offset":0.16,"color":"#000"},{"offset":0.164,"color":"#fff"},{"offset":0.168,"color":"#000"},{"offset":0.172,"color":"#fff"},{"offset":0.176,"color":"#000"},{"offset":0.18,"color":"#fff"},{"offset":0.184,"color":"#000"},{"offset":0.188,"color":"#fff"},{"offset":0.192,"color":"#000"},{"offset":0.196,"color":"#fff"},
{"offset":0.2,"color":"#000"},{"offset":0.204,"color":"#fff"},{"offset":0.208,"color":"#000"},{"offset":0.212,"color":"#fff"},{"offset":0.216,"color":"#000"},{"offset":0.22,"color":"#fff"},{"offset":0.224,"color":"#000"},{"offset":0.228,"color":"#fff"},{"offset":0.232,"color":"#000"},{"offset":0.236,"color":"#fff"},
{"offset":0.24,"color":"#000"},{"offset":0.244,"color":"#fff"},{"offset":0.248,"color":"#000"},{"offset":0.252,"color":"#fff"},{"offset":0.256,"color":"#000"},{"offset":0.26,"color":"#fff"},{"offset":0.264,"color":"#000"},{"offset":0.268,"color":"#fff"},{"offset":0.272,"color":"#000"},{"offset":0.276,"color":"#fff"},
{"offset":0.28,"color":"#000"},{"offset":0.284,"color":"#fff"},{"offset":0.288,"color":"#000"},{"offset":0.292,"color":"#fff"},{"offset":0.296,"color":"#000"},{"offset":0.3,"color":"#fff"},{"offset":0.304,"color":"#000"},{"offset":0.308,"color":"#fff"},{"offset":0.312,"color":"#000"},{"offset":0.316,"color":"#fff"},
{"offset":0.32,"color":"#000"},{"offset":0.324,"color":"#fff"},{"offset":0.328,"color":"#000"},{"offset":0.332,"color":"#fff"},{"offset":0.336,"color":"#000"},{"offset":0.34,"color":"#fff"},{"offset":0.344,"color":"#000"},{"offset":0.348,"color":"#fff"},{"offset":0.352,"color":"#000"},{"offset":0.356,"color":"#fff"},
{"offset":0.36,"color":"#000"},{"offset":0.364,"color":"#fff"},{"offset":0.368,"color":"#000"},{"offset":0.372,"color":"#fff"},{"offset":0.376,"color":"#000"},{"offset":0.38,"color":"#fff"},{"offset":0.384,"color":"#000"},{"offset":0.388,"color":"#fff"},{"offset":0.392,"color":"#000"},{"offset":0.396,"color":"#fff"},
{"offset":0.4,"color":"#000"},{"offset":0.404,"color":"#fff"},{"offset":0.408,"color":"#000"},{"offset":0.412,"color":"#fff"},{"offset":0.416,"color":"#000"},{"offset":0.42,"color":"#fff"},{"offset":0.424,"color":"#000"},{"offset":0.428,"color":"#fff"},{"offset":0.432,"color":"#000"},{"offset":0.436,"color":"#fff"},
{"offset":0.44,"color":"#000"},{"offset":0.444,"color":"#fff"},{"offset":0.448,"color":"#000"},{"offset":0.452,"color":"#fff"},{"offset":0.456,"color":"#000"},{"offset":0.46,"color":"#fff"},{"offset":0.464,"color":"#000"},{"offset":0.468,"color":"#fff"},{"offset":0.472,"color":"#000"},{"offset":0.476,"color":"#fff"},
{"offset":0.48,"color":"#000"},{"offset":0.484,"color":"#fff"},{"offset":0.488,"color":"#000"},{"offset":0.492,"color":"#fff"},{"offset":0.496,"color":"#000"},{"offset":0.5,"color":"#fff"},{"offset":0.504,"color":"#000"},{"offset":0.508,"color":"#fff"},{"offset":0.512,"color":"#000"},{"offset":0.516,"color":"#fff"},
{"offset":0.52,"color":"#000"},{"offset":0.524,"color":"#fff"},{"offset":0.528,"color":"#000"},{"offset":0.532,"color":"#fff"},{"offset":0.536,"color":"#000"},{"offset":0.54,"color":"#fff"},{"offset":0.544,"color":"#000"},{"offset":0.548,"color":"#fff"},{"offset":0.552,"color":"#000"},{"offset":0.556,"color":"#fff"},
{"offset":0.56,"color":"#000"},{"offset":0.564,"color":"#fff"},{"offset":0.568,"color":"#000"},{"offset":0.572,"color":"#fff"},{"offset":0.576,"color":"#000"},{"offset":0.58,"color":"#fff"},{"offset":0.584,"color":"#000"},{"offset":0.588,"color":"#fff"},{"offset":0.592,"color":"#000"},{"offset":0.596,"color":"#fff"},
{"offset":0.6,"color":"#000"},{"offset":0.604,"color":"#fff"},{"offset":0.608,"color":"#000"},{"offset":0.612,"color":"#fff"},{"offset":0.616,"color":"#000"},{"offset":0.62,"color":"#fff"},{"offset":0.624,"color":"#000"},{"offset":0.628,"color":"#fff"},{"offset":0.632,"color":"#000"},{"offset":0.636,"color":"#fff"},
{"offset":0.64,"color":"#000"},{"offset":0.644,"color":"#fff"},{"offset":0.648,"color":"#000"},{"offset":0.652,"color":"#fff"},{"offset":0.656,"color":"#000"},{"offset":0.66,"color":"#fff"},{"offset":0.664,"color":"#000"},{"offset":0.668,"color":"#fff"},{"offset":0.672,"color":"#000"},{"offset":0.676,"color":"#fff"},
{"offset":0.68,"color":"#000"},{"offset":0.684,"color":"#fff"},{"offset":0.688,"color":"#000"},{"offset":0.692,"color":"#fff"},{"offset":0.696,"color":"#000"},{"offset":0.7,"color":"#fff"},{"offset":0.704,"color":"#000"},{"offset":0.708,"color":"#fff"},{"offset":0.712,"color":"#000"},{"offset":0.716,"color":"#fff"},
{"offset":0.72,"color":"#000"},{"offset":0.724,"color":"#fff"},{"offset":0.728,"color":"#000"},{"offset":0.732,"color":"#fff"},{"offset":0.736,"color":"#000"},{"offset":0.74,"color":"#fff"},{"offset":0.744,"color":"#000"},{"offset":0.748,"color":"#fff"},{"offset":0.752,"color":"#000"},{"offset":0.756,"color":"#fff"},
{"offset":0.76,"color":"#000"},{"offset":0.764,"color":"#fff"},{"offset":0.768,"color":"#000"},{"offset":0.772,"color":"#fff"},{"offset":0.776,"color":"#000"},{"offset":0.78,"color":"#fff"},{"offset":0.784,"color":"#000"},{"offset":0.788,"color":"#fff"},{"offset":0.792,"color":"#000"},{"offset":0.796,"color":"#fff"},
{"offset":0.8,"color":"#000"},{"offset":0.804,"color":"#fff"},{"offset":0.808,"color":"#000"},{"offset":0.812,"color":"#fff"},{"offset":0.816,"color":"#000"},{"offset":0.82,"color":"#fff"},{"offset":0.824,"color":"#000"},{"offset":0.828,"color":"#fff"},{"offset":0.832,"color":"#000"},{"offset":0.836,"color":"#fff"},
{"offset":0.84,"color":"#000"},{"offset":0.844,"color":"#fff"},{"offset":0.848,"color":"#000"},{"offset":0.852,"color":"#fff"},{"offset":0.856,"color":"#000"},{"offset":0.86,"color":"#fff"},{"offset":0.864,"color":"#000"},{"offset":0.868,"color":"#fff"},{"offset":0.872,"color":"#000"},{"offset":0.876,"color":"#fff"},
{"offset":0.88,"color":"#000"},{"offset":0.884,"color":"#fff"},{"offset":0.888,"color":"#000"},{"offset":0.892,"color":"#fff"},{"offset":0.896,"color":"#000"},{"offset":0.9,"color":"#fff"},{"offset":0.904,"color":"#000"},{"offset":0.908,"color":"#fff"},{"offset":0.912,"color":"#000"},{"offset":0.916,"color":"#fff"},
{"offset":0.92,"color":"#000"},{"offset":0.924,"color":"#fff"},{"offset":0.928,"color":"#000"},{"offset":0.932,"color":"#fff"},{"offset":0.936,"color":"#000"},{"offset":0.94,"color":"#fff"},{"offset":0.944,"color":"#000"},{"offset":0.948,"color":"#fff"},{"offset":0.952,"color":"#000"},{"offset":0.956,"color":"#fff"},
{"offset":0.96,"color":"#000"},{"offset":0.964,"color":"#fff"},{"offset":0.968,"color":"#000"},{"offset":0.972,"color":"#fff"},{"offset":0.976,"color":"#000"},{"offset":0.98,"color":"#fff"},{"offset":0.984,"color":"#000"},{"offset":0.988,"color":"#fff"},{"offset":0.992,"color":"#000"},{"offset":0.996,"color":"#fff"},
{"offset":1,"color":"#000"}]}},
"encoding":{"y":{"field":"s4","type":"quantitative","scale":{"domain":[0,9500],"nice":false},"axis":{"values":[0,1000,2000,3000,4000,5000,6000,7000,8000,9000],"format":"d","title":null}},"y2":{"field":"s3"}}},
{"mark":{"type":"line","color":"#000","strokeWidth":1.5},
"encoding":{"y":{"field":"s3","type":"quantitative","scale":{"domain":[0,9500],"nice":false},"axis":{"values":[0,1000,2000,3000,4000,5000,6000,7000,8000,9000],"format":"d","title":null}}}},
{"mark":{"type":"line","color":"#000","strokeWidth":2.5},
"encoding":{"y":{"field":"s4","type":"quantitative","scale":{"domain":[0,9500],"nice":false},"axis":{"values":[0,1000,2000,3000,4000,5000,6000,7000,8000,9000],"format":"d","title":null}}}},
{"mark":{"type":"rule","color":"#000","strokeWidth":2},
"encoding":{"y":{"field":"s4","type":"quantitative","scale":{"domain":[0,9500],"nice":false},"axis":{"values":[0,1000,2000,3000,4000,5000,6000,7000,8000,9000],"format":"d","title":null}},"y2":{"datum":0}}}
]
}
